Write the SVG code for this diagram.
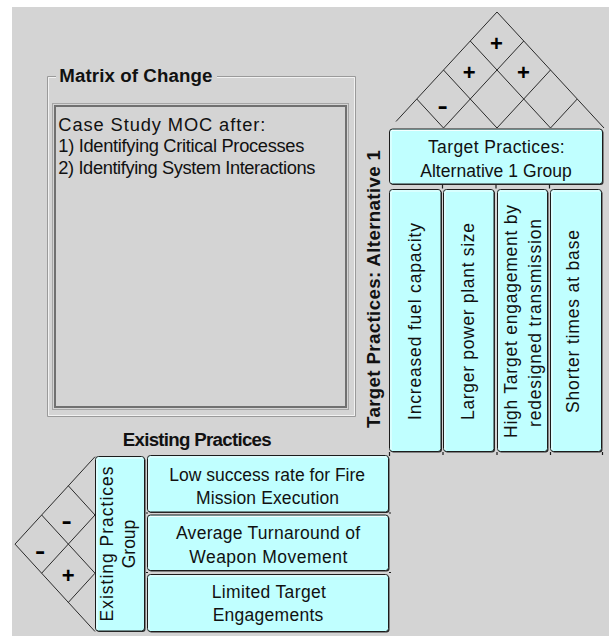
<svg xmlns="http://www.w3.org/2000/svg" width="609" height="636" viewBox="0 0 609 636">
  <defs>
    <style>
      .t { font-family: "Liberation Sans", Arial, sans-serif; font-size: 17.5px; fill: #111; }
      .memo { font-family: "Liberation Sans", Arial, sans-serif; font-size: 18.3px; fill: #111; }
      .b { font-family: "Liberation Sans", Arial, sans-serif; font-size: 18.7px; font-weight: bold; fill: #111; }
      .sign { font-family: "Liberation Sans", Arial, sans-serif; font-size: 22px; font-weight: bold; fill: #000; text-anchor: middle; }
      .mid { text-anchor: middle; }
      .cell { fill: #c0ffff; stroke: #1c1c1c; stroke-width: 1; }
      .shadow { fill: #2e2e2e; }
      .hl { fill: none; stroke: #ffffff; stroke-width: 1; opacity: 0.8; }
      .grid { fill: none; stroke: #2a2a2a; stroke-width: 1; }
      .tick { stroke: #1c1c1c; stroke-width: 1.2; }
    </style>
  </defs>

  <!-- canvas -->
  <rect x="0" y="0" width="609" height="636" fill="#ffffff"/>
  <rect x="12" y="7" width="597" height="629" fill="#d4d4d4"/>

  <!-- Matrix of Change group box -->
  <g id="moc">
    <path d="M56 76.5 H47.5 V416.5 H355.5 V76.5 H217" fill="none" stroke="#9a9a9a" stroke-width="1"/>
    <path d="M56 77.5 H48.5 V415.5 H354.5 V77.5 H217" fill="none" stroke="#ffffff" stroke-width="1" opacity="0.7"/>
    <text class="b" x="59.3" y="81.5" textLength="153">Matrix of Change</text>
    <rect x="52.5" y="103.5" width="296" height="306" fill="#d4d4d4" stroke="#a6a6a6" stroke-width="1"/>
    <rect x="55" y="106" width="291" height="301" fill="none" stroke="#707070" stroke-width="2"/>
    <text class="memo" x="58.3" y="130.5" textLength="207">Case Study MOC after:</text>
    <text class="memo" x="58.3" y="152" textLength="246">1) Identifying Critical Processes</text>
    <text class="memo" x="58.3" y="173.5" textLength="257">2) Identifying System Interactions</text>
  </g>

  <!-- correlation roof over the target practices -->
  <g id="roof-target" class="grid">
    <path d="M396 121.5 L497 12 L604 128"/>
    <path d="M443.5 128 L523.75 41 M497 128 L550.5 70 M550.5 128 L577.25 99"/>
    <path d="M550.5 128 L470.25 41 M497 128 L443.5 70 M443.5 128 L416.75 99"/>
  </g>
  <g id="roof-target-signs">
    <text class="sign" x="496.5" y="50.5">+</text>
    <text class="sign" x="469.3" y="79.5">+</text>
    <text class="sign" x="523.5" y="79.5">+</text>
    <text class="sign" transform="translate(442.7 112.5) scale(1.4 1)">-</text>
  </g>

  <!-- correlation roof beside the existing practices -->
  <g id="roof-existing" class="grid">
    <path d="M95 456.7 L15 544.1 L95 631.5"/>
    <path d="M41.67 515 L95 573.2 M68.33 485.8 L95 515"/>
    <path d="M41.67 573.2 L95 515 M68.33 602.4 L95 573.2"/>
  </g>
  <g id="roof-existing-signs">
    <text class="sign" transform="translate(66.7 528) scale(1.4 1)">-</text>
    <text class="sign" transform="translate(40 558) scale(1.4 1)">-</text>
    <text class="sign" x="68.3" y="582.7">+</text>
  </g>

  <!-- target practices header -->
  <g id="target-group">
    <rect class="shadow" x="390.5" y="130" width="213" height="55" rx="3"/>
    <rect class="cell" x="389.5" y="129" width="213" height="55" rx="3"/>
    <path class="hl" d="M391 182.5 V131.5 Q391 130.5 392 130.5 H601"/>
    <text class="t mid" x="496.3" y="153.3" textLength="136.7">Target Practices:</text>
    <text class="t mid" x="496" y="176.7" textLength="151.7">Alternative 1 Group</text>
  </g>

  <text class="b mid" transform="translate(379.5 289) rotate(-90)" textLength="278">Target Practices:  Alternative 1</text>

  <!-- target practice columns -->
  <g id="target-1">
    <rect class="shadow" x="390.5" y="190.5" width="51.5" height="262" rx="3"/>
    <rect class="cell" x="389.5" y="189.5" width="51.5" height="262" rx="3"/>
    <path class="hl" d="M391 450 V192 Q391 191 392 191 H439.5"/>
    <text class="t mid" transform="translate(420.5 321.5) rotate(-90)" textLength="197">Increased fuel capacity</text>
  </g>
  <g id="target-2">
    <rect class="shadow" x="444.5" y="190.5" width="50.5" height="262" rx="3"/>
    <rect class="cell" x="443.5" y="189.5" width="50.5" height="262" rx="3"/>
    <path class="hl" d="M445 450 V192 Q445 191 446 191 H492.5"/>
    <text class="t mid" transform="translate(474 321.5) rotate(-90)" textLength="197">Larger power plant size</text>
  </g>
  <g id="target-3">
    <rect class="shadow" x="498.5" y="190.5" width="50" height="262" rx="3"/>
    <rect class="cell" x="497.5" y="189.5" width="50" height="262" rx="3"/>
    <path class="hl" d="M499 450 V192 Q499 191 500 191 H546"/>
    <text class="t mid" transform="translate(517 321.5) rotate(-90)" textLength="233">High Target engagement by</text>
    <text class="t mid" transform="translate(540.5 323) rotate(-90)" textLength="208">redesigned transmission</text>
  </g>
  <g id="target-4">
    <rect class="shadow" x="551.5" y="190.5" width="51" height="262" rx="3"/>
    <rect class="cell" x="550.5" y="189.5" width="51" height="262" rx="3"/>
    <path class="hl" d="M552 450 V192 Q552 191 553 191 H600"/>
    <text class="t mid" transform="translate(579 321.5) rotate(-90)" textLength="183">Shorter times at base</text>
  </g>

  <text class="b mid" x="197.2" y="445.7" textLength="149">Existing Practices</text>

  <!-- existing practices group -->
  <g id="existing-group">
    <rect class="shadow" x="96.5" y="457.5" width="49" height="174.5" rx="3"/>
    <rect class="cell" x="95.5" y="456.5" width="49" height="174.5" rx="3"/>
    <path class="hl" d="M97 629.5 V459 Q97 458 98 458 H143"/>
    <text class="t mid" transform="translate(112.8 544) rotate(-90)" textLength="155">Existing Practices</text>
    <text class="t mid" transform="translate(134.5 544) rotate(-90)">Group</text>
  </g>

  <!-- existing practice rows -->
  <g id="existing-1">
    <rect class="shadow" x="148.5" y="456.5" width="241" height="56.5" rx="3"/>
    <rect class="cell" x="147.5" y="455.5" width="241" height="56.5" rx="3"/>
    <path class="hl" d="M149 510.5 V458 Q149 457 150 457 H387"/>
    <text class="t mid" x="267.2" y="480.5" textLength="195.7">Low success rate for Fire</text>
    <text class="t mid" x="267.5" y="504" textLength="143">Mission Execution</text>
  </g>
  <g id="existing-2">
    <rect class="shadow" x="148.5" y="516" width="241" height="55.5" rx="3"/>
    <rect class="cell" x="147.5" y="515" width="241" height="55.5" rx="3"/>
    <path class="hl" d="M149 569 V517.5 Q149 516.5 150 516.5 H387"/>
    <text class="t mid" x="268" y="539" textLength="184">Average Turnaround of</text>
    <text class="t mid" x="268.3" y="563" textLength="158">Weapon Movement</text>
  </g>
  <g id="existing-3">
    <rect class="shadow" x="148.5" y="575.5" width="241" height="57" rx="3"/>
    <rect class="cell" x="147.5" y="574.5" width="241" height="57" rx="3"/>
    <path class="hl" d="M149 630 V577 Q149 576 150 576 H387"/>
    <text class="t mid" x="268.8" y="598" textLength="114.3">Limited Target</text>
    <text class="t mid" x="268" y="621" textLength="110.7">Engagements</text>
  </g>

  <!-- small joint marks between cells -->
  <g id="joints" class="tick">
    <path d="M442.5 184.5 v4 M496 184.5 v4 M549.5 184.5 v4"/>
    <path d="M389.5 452 v4 M443 452 v3 M497 452 v3 M550.5 452 v3 M602.5 452 v3"/>
    <path d="M146 513 h2 M146 572.5 h2 M389 513 h2 M389 572.5 h2"/>
  </g>
</svg>
